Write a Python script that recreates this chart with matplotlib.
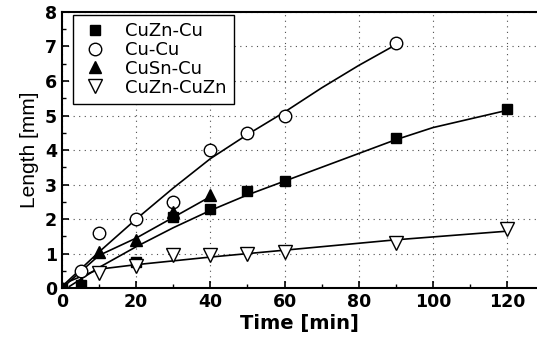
import matplotlib.pyplot as plt
from matplotlib.ticker import MultipleLocator

# measured points
t_cuzn_cu = [0, 5, 20, 30, 40, 50, 60, 90, 120]
l_cuzn_cu = [0.0, 0.1, 0.75, 2.05, 2.3, 2.8, 3.1, 4.35, 5.2]
t_cu_cu = [5, 10, 20, 30, 40, 50, 60, 90]
l_cu_cu = [0.5, 1.6, 2.0, 2.5, 4.0, 4.5, 5.0, 7.1]
t_cusn_cu = [0, 5, 10, 20, 30, 40]
l_cusn_cu = [0.0, 0.15, 1.05, 1.4, 2.2, 2.7]
t_cuzn_cuzn = [10, 20, 30, 40, 50, 60, 90, 120]
l_cuzn_cuzn = [0.45, 0.65, 0.95, 0.95, 1.0, 1.05, 1.3, 1.7]

# fitted curves
ft_cu_cu = [0, 10, 20, 30, 40, 50, 60, 70, 80, 90]
fl_cu_cu = [0.05, 1.05, 2.0, 2.9, 3.75, 4.45, 5.1, 5.8, 6.45, 7.05]
ft_cuzn_cu = [2, 10, 20, 30, 40, 50, 60, 70, 80, 90, 100, 110, 120]
fl_cuzn_cu = [0.05, 0.6, 1.2, 1.75, 2.25, 2.7, 3.1, 3.5, 3.9, 4.3, 4.65, 4.9, 5.15]
ft_cusn_cu = [0, 10, 20, 30, 40]
fl_cusn_cu = [0.0, 0.95, 1.45, 2.05, 2.65]
ft_cuzn_cuzn = [2, 10, 20, 40, 60, 90, 120]
fl_cuzn_cuzn = [0.2, 0.55, 0.68, 0.9, 1.1, 1.4, 1.65]

plt.rcParams['font.family'] = ['DejaVu Sans']

fig = plt.figure(figsize=(5.37, 3.41), dpi=100)
ax = fig.add_axes([0.1155, 0.155, 0.884, 0.81])

ax.plot(ft_cu_cu, fl_cu_cu, color="k", lw=1.2)
ax.plot(ft_cuzn_cu, fl_cuzn_cu, color="k", lw=1.2)
ax.plot(ft_cusn_cu, fl_cusn_cu, color="k", lw=1.2)
ax.plot(ft_cuzn_cuzn, fl_cuzn_cuzn, color="k", lw=1.2)

ax.plot(t_cuzn_cu, l_cuzn_cu, "s", color="k", ms=7.5, ls="none", label="CuZn-Cu")
ax.plot(t_cu_cu, l_cu_cu, "o", mfc="white", mec="k", ms=9, ls="none", label="Cu-Cu")
ax.plot(t_cusn_cu, l_cusn_cu, "^", color="k", ms=9, ls="none", label="CuSn-Cu")
ax.plot(t_cuzn_cuzn, l_cuzn_cuzn, "v", mfc="white", mec="k", ms=10, ls="none", label="CuZn-CuZn")

ax.set_xlim(0, 128)
ax.set_ylim(0, 8)
ax.xaxis.set_major_locator(MultipleLocator(20))
ax.xaxis.set_minor_locator(MultipleLocator(10))
ax.yaxis.set_major_locator(MultipleLocator(1))
ax.yaxis.set_minor_locator(MultipleLocator(0.5))
ax.tick_params(which="both", direction="in", top=False, right=False)
ax.tick_params(which="major", length=5, width=1.2, labelsize=12.5)
ax.tick_params(which="minor", length=3, width=1)
for lab in ax.get_xticklabels() + ax.get_yticklabels():
    lab.set_fontweight("bold")
ax.grid(True, which="major", ls=(0, (1, 4)), color="0.3", lw=0.8)
ax.spines["right"].set_visible(False)
for s in ["left", "bottom", "top"]:
    ax.spines[s].set_linewidth(1.5)

ax.set_xlabel("Time [min]", fontsize=14, fontweight="bold", labelpad=2)
ax.set_ylabel("Length [mm]", fontsize=15, family=["Liberation Sans", "DejaVu Sans"], labelpad=4)

leg = ax.legend(loc="upper left", frameon=True, fancybox=False,
                edgecolor="k", framealpha=1, handletextpad=0.9, labelspacing=0.05,
                borderpad=0.4, borderaxespad=0, handlelength=1.6,
                bbox_to_anchor=(0.023, 0.99), prop={"family": "DejaVu Sans", "size": 13})
leg.get_frame().set_linewidth(1.0)

fig.savefig("out.png", dpi=100)
